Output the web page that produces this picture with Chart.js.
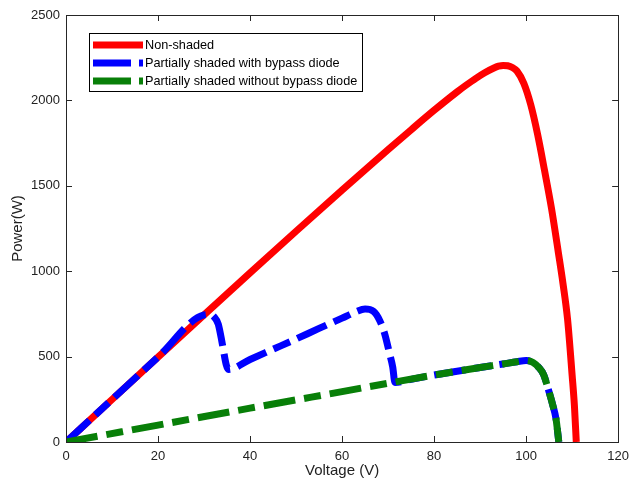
<!DOCTYPE html>
<html><head><meta charset="utf-8">
<script src="https://cdn.jsdelivr.net/npm/chart.js@4.4.1/dist/chart.umd.min.js"></script>
<style>html,body{margin:0;padding:0;background:#fff}#wrap{width:636px;height:487px}</style>
</head><body><div id="wrap"><canvas id="c" width="636" height="487"></canvas></div>
<script>
// ---- data ----
const seriesNames = ['Non-shaded', 'Partially shaded with bypass diode', 'Partially shaded without bypass diode'];

const nonShadedV = [0, 10, 20, 30, 40, 50, 60, 70, 75, 80, 85, 87, 89, 91, 93, 94, 95, 96, 97, 98, 99.5, 101, 102.5, 104, 105.5, 107, 108, 109, 110, 110.5, 110.9];
const nonShadedP = [0, 249, 497, 744, 990, 1234, 1475, 1712, 1828, 1942, 2050, 2090, 2128, 2162, 2190, 2200, 2205, 2203, 2193, 2172, 2100, 1975, 1800, 1590, 1370, 1110, 930, 720, 390, 210, 0];

const bypassV = [0, 10, 20, 30, 31.4, 32.2, 33.1, 34.0, 34.8, 35.3, 40, 45, 50, 55, 60, 63, 65, 66.8, 68.2, 69.3, 70.3, 71, 71.5, 75, 80, 85, 90, 95, 98, 100, 101.5, 102.8, 103.8, 104.8, 105.8, 106.5, 107.1];
const bypassP = [0, 249, 497, 744, 747, 732, 690, 570, 455, 425, 483, 543, 603, 665, 725, 762, 778, 765, 710, 630, 520, 440, 348, 367, 392, 414, 436, 457, 470, 477, 466, 435, 395, 310, 215, 135, 0];

const noBypassV = [0, 20, 40, 60, 80, 90, 95, 98, 100, 101.5, 102.8, 103.8, 104.8, 105.8, 106.5, 107.1];
const noBypassP = [0, 99, 198, 295, 392, 436, 457, 470, 477, 466, 435, 395, 310, 215, 135, 0];

const xTicks = [0, 20, 40, 60, 80, 100, 120];
const yTicks = [0, 500, 1000, 1500, 2000, 2500];

const toXY = (vs, ps) => vs.map((v, i) => ({x: v, y: ps[i]}));

const colors = ['#ff0000', '#0000ff', '#087f08'];
const dashes = [[], [32, 8, 18, 8], [32, 9, 17, 9]];
const legendDashes = [[], [38, 8], [38, 8]];

const FONT = "'Liberation Sans', Arial, Helvetica, sans-serif";

const framePlugin = {
  id: 'frame',
  afterDraw(chart) {
    const {ctx, chartArea: a, scales} = chart;
    ctx.save();
    ctx.strokeStyle = '#262626';
    ctx.lineWidth = 1;
    ctx.setLineDash([]);
    ctx.strokeRect(Math.round(a.left) + 0.5, Math.round(a.top) + 0.5, Math.round(a.right - a.left), Math.round(a.bottom - a.top));
    const tl = 6;
    ctx.beginPath();
    xTicks.forEach(v => {
      const px = Math.round(scales.x.getPixelForValue(v)) + 0.5;
      ctx.moveTo(px, a.bottom); ctx.lineTo(px, a.bottom - tl);
      ctx.moveTo(px, a.top); ctx.lineTo(px, a.top + tl);
    });
    yTicks.forEach(v => {
      const py = Math.round(scales.y.getPixelForValue(v)) + 0.5;
      ctx.moveTo(a.left, py); ctx.lineTo(a.left + tl, py);
      ctx.moveTo(a.right, py); ctx.lineTo(a.right - tl, py);
    });
    ctx.stroke();

    // legend box
    const lg = {x: 89.5, y: 33.5, w: 273, h: 58};
    ctx.fillStyle = '#fff';
    ctx.fillRect(lg.x, lg.y, lg.w, lg.h);
    ctx.strokeStyle = '#000';
    ctx.strokeRect(lg.x, lg.y, lg.w, lg.h);
    const rows = [45, 63, 81];
    seriesNames.forEach((name, i) => {
      ctx.beginPath();
      ctx.strokeStyle = colors[i];
      ctx.lineWidth = 7;
      ctx.lineCap = 'butt';
      ctx.setLineDash(legendDashes[i]);
      ctx.moveTo(93, rows[i]); ctx.lineTo(143, rows[i]);
      ctx.stroke();
      ctx.setLineDash([]);
      ctx.fillStyle = '#000';
      ctx.font = '12.7px ' + FONT;
      ctx.textBaseline = 'middle';
      ctx.textAlign = 'left';
      ctx.fillText(name, 145, rows[i] + 0.5);
    });
    ctx.restore();
  }
};

const data = {
  datasets: [
    {label: seriesNames[0], data: toXY(nonShadedV, nonShadedP), order: 3},
    {label: seriesNames[1], data: toXY(bypassV, bypassP), order: 2},
    {label: seriesNames[2], data: toXY(noBypassV, noBypassP), order: 1}
  ].map((d, i) => Object.assign(d, {
    borderColor: colors[i], backgroundColor: colors[i], borderWidth: 7,
    borderDash: dashes[i], borderCapStyle: 'butt', borderJoinStyle: 'round',
    pointRadius: 0, fill: false, cubicInterpolationMode: 'monotone', showLine: true
  }))
};

new Chart(document.getElementById('c'), {
  type: 'scatter',
  data,
  options: {
    responsive: false, animation: false, devicePixelRatio: 1,
    layout: {padding: {top: 15, right: 12, left: 0, bottom: 0}},
    plugins: {legend: {display: false}, tooltip: {enabled: false}},
    scales: {
      x: {
        type: 'linear', min: 0, max: 120,
        afterBuildTicks: s => { s.ticks = xTicks.map(v => ({value: v})); },
        afterFit: s => { s.height = 45; },
        grid: {display: false, drawTicks: false},
        border: {display: false},
        ticks: {color: '#222', font: {family: FONT, size: 13}, padding: 7, maxRotation: 0, callback: v => String(v)},
        title: {display: true, text: 'Voltage (V)', color: '#222', font: {family: FONT, size: 15}, padding: {top: 0, bottom: 7}}
      },
      y: {
        type: 'linear', min: 0, max: 2500,
        afterBuildTicks: s => { s.ticks = yTicks.map(v => ({value: v})); },
        afterFit: s => { s.width = 66; },
        grid: {display: false, drawTicks: false},
        border: {display: false},
        ticks: {color: '#222', font: {family: FONT, size: 13}, padding: 6, callback: v => String(v)},
        title: {display: true, text: 'Power(W)', color: '#222', font: {family: FONT, size: 15}, padding: {top: 9, bottom: 0}}
      }
    }
  },
  plugins: [framePlugin]
});
</script>
</body></html>
